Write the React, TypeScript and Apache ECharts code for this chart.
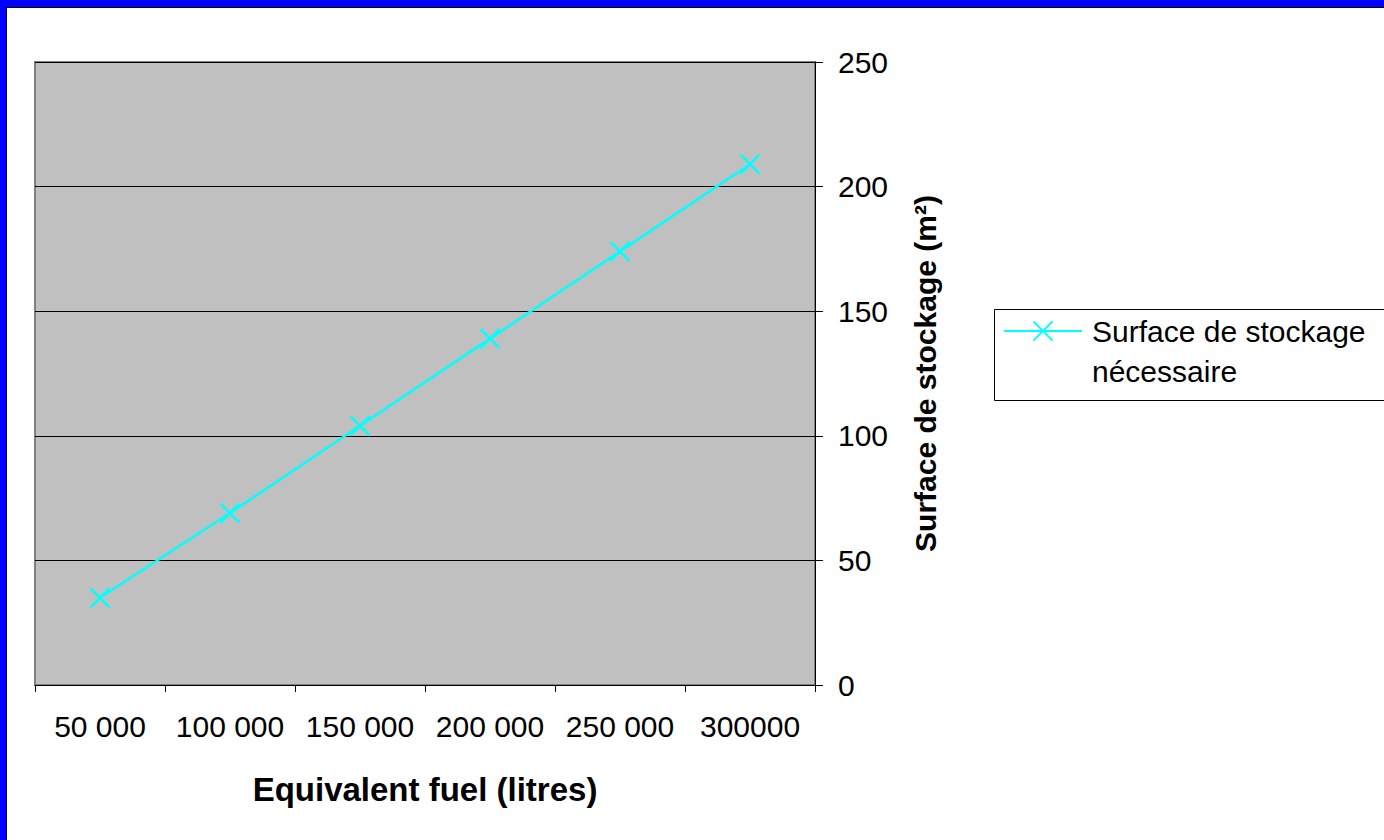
import React, { useEffect, useRef } from "react";
import * as echarts from "echarts";

const categories = ["50 000", "100 000", "150 000", "200 000", "250 000", "300000"];
const surfaceValues = [35, 69, 104, 139, 174, 209];
const seriesName = "Surface de stockage\nnécessaire";
const xTitle = "Equivalent fuel (litres)";
const yTitle = "Surface de stockage (m²)";

const FONT = "'Liberation Sans', Arial, sans-serif";
const CYAN = "#00FFFF";
const XMARK = "path://M0 0L20 20M20 0L0 20";

export default function App() {
  const ref = useRef<HTMLDivElement>(null);
  useEffect(() => {
    if (!ref.current) return;
    const chart = echarts.init(ref.current, undefined, { renderer: "svg" });
    chart.setOption({
      animation: false,
      backgroundColor: "#FFFFFF",
      textStyle: { fontFamily: FONT },
      grid: {
        left: 35,
        right: 569,
        top: 62,
        bottom: 155,
        show: true,
        backgroundColor: "#C0C0C0",
        borderColor: "#808080",
        borderWidth: 2,
      },
      xAxis: {
        type: "category",
        data: categories,
        boundaryGap: true,
        name: xTitle,
        nameLocation: "middle",
        nameGap: 88,
        nameTextStyle: { fontFamily: FONT, fontSize: 33, fontWeight: "bold", color: "#000" },
        axisLine: { show: true, lineStyle: { color: "#000", width: 1 } },
        axisTick: { show: true, alignWithLabel: false, length: 7, lineStyle: { color: "#000" } },
        axisLabel: { fontFamily: FONT, fontSize: 30, color: "#000", margin: 26, interval: 0 },
        splitLine: { show: false },
      },
      yAxis: {
        type: "value",
        position: "right",
        min: 0,
        max: 250,
        interval: 50,
        name: yTitle,
        nameLocation: "middle",
        nameGap: 95,
        nameTextStyle: { fontFamily: FONT, fontSize: 30, fontWeight: "bold", color: "#000" },
        axisLine: { show: true, lineStyle: { color: "#000", width: 1 } },
        axisTick: { show: true, length: 8, lineStyle: { color: "#000" } },
        axisLabel: { fontFamily: FONT, fontSize: 30, color: "#000", margin: 23 },
        splitLine: { show: true, lineStyle: { color: "#000", width: 1 } },
      },
      legend: {
        show: true,
        orient: "vertical",
        left: 1003,
        top: 271,
        padding: 0,
        itemWidth: 78,
        itemHeight: 24,
        formatter: (name: string) => "\n" + name,
        textStyle: {
          fontFamily: FONT,
          fontSize: 30,
          color: "#000",
          lineHeight: 40,
          padding: [0, 0, 0, 5],
        },
        data: [seriesName],
      },
      series: [
        {
          name: seriesName,
          type: "line",
          data: surfaceValues,
          symbol: XMARK,
          symbolSize: 19,
          showSymbol: true,
          lineStyle: { color: CYAN, width: 2.5 },
          itemStyle: { color: CYAN, borderColor: CYAN, borderWidth: 2.5 },
        },
      ],
      graphic: [
        {
          type: "rect",
          left: 992,
          top: 307,
          shape: { width: 400, height: 91 },
          style: { fill: "none", stroke: "#000", lineWidth: 1 },
          z: 10,
          silent: true,
        },
        { type: "rect", shape: { x: 0, y: 0, width: 1384, height: 7 }, style: { fill: "#0000FF" }, z: 20 },
        { type: "rect", shape: { x: 0, y: 0, width: 6, height: 840 }, style: { fill: "#0000FF" }, z: 20 },
        { type: "line", shape: { x1: 6, y1: 7.5, x2: 1384, y2: 7.5 }, style: { stroke: "#000", lineWidth: 1 }, z: 21 },
        { type: "line", shape: { x1: 6.5, y1: 7, x2: 6.5, y2: 840 }, style: { stroke: "#000", lineWidth: 1 }, z: 21 },
      ],
    });
    return () => chart.dispose();
  }, []);
  return (
    <div
      ref={ref}
      style={{ position: "fixed", left: 0, top: 0, width: 1384, height: 840 }}
    />
  );
}
